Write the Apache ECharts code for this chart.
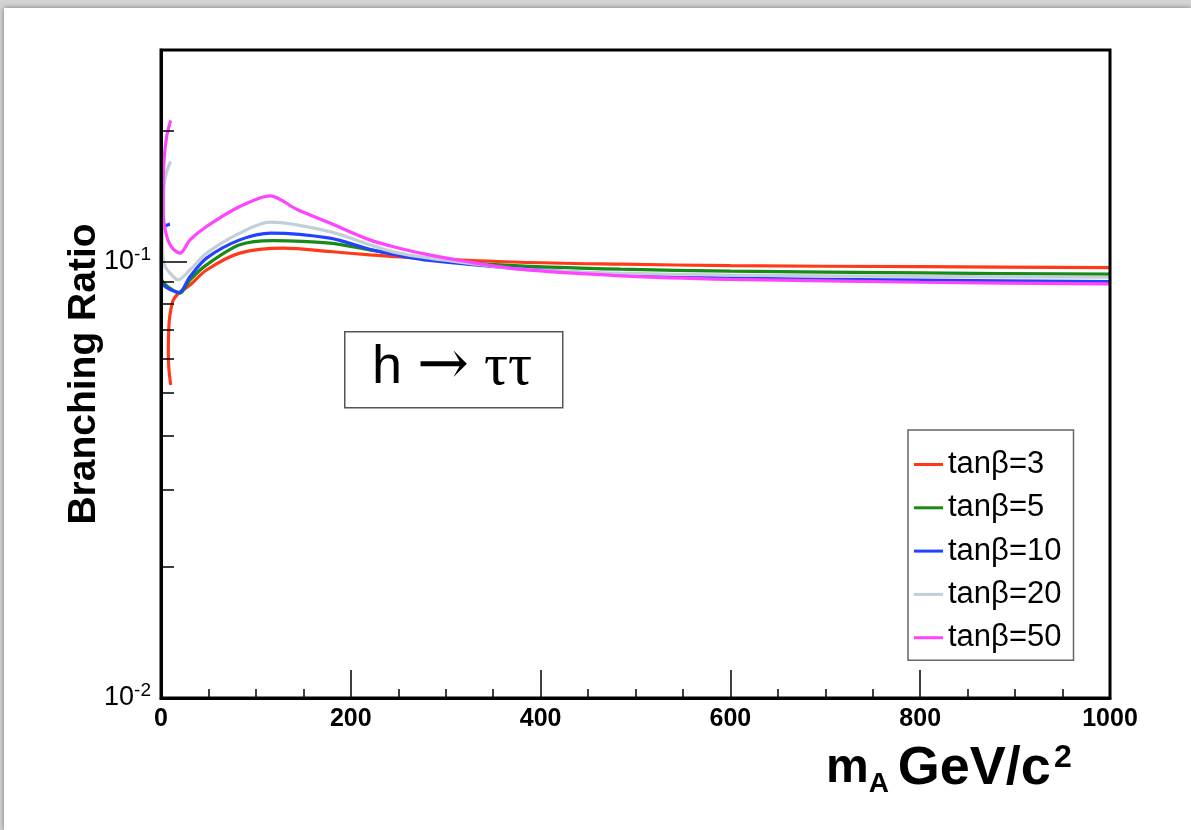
<!DOCTYPE html>
<html><head><meta charset="utf-8">
<script src="https://cdn.jsdelivr.net/npm/echarts@6/dist/echarts.min.js"></script>
<style>
html,body{margin:0;padding:0;width:1191px;height:830px;overflow:hidden;background:#d4d4d4;}
#card{position:absolute;left:4px;top:8px;right:0;bottom:0;background:#fff;box-shadow:0 0 5px rgba(0,0,0,0.45);}
#chart{position:absolute;left:0;top:0;width:1191px;height:830px;}
</style></head><body>
<div id="card"></div><div id="chart"></div>
<script>
// ---- data (mA [GeV/c^2], BR) ----
const seriesNames = ['tanβ=3', 'tanβ=5', 'tanβ=10', 'tanβ=20', 'tanβ=50'];
const seriesColors = ['#ff3a1a', '#178a17', '#2342ff', '#c3cfd8', '#ff44ff'];
const tb3 = [[10.2,0.0522],[8.3,0.057],[7.7,0.0617],[8,0.068],[8.8,0.0736],[10.5,0.078],[13,0.0818],[18.3,0.0847],[22,0.0858],[30.6,0.0885],[48,0.0958],[83,0.1047],[129,0.1075],[178,0.1056],[220,0.1037],[248,0.1028],[283,0.1018],[378,0.0998],[484,0.0988],[600,0.098],[800,0.0975],[1000,0.097]];
const tb5 = [[1,0.0905],[5,0.0885],[10,0.0868],[15,0.0855],[20,0.0848],[30.6,0.0909],[48,0.0984],[83,0.1094],[118,0.1119],[178,0.1104],[220,0.1065],[248,0.1041],[283,0.1012],[378,0.0979],[484,0.0962],[600,0.0952],[800,0.0943],[1000,0.0937]];
const tb10 = [[9.5,0.122],[5,0.121],[1.5,0.118],[0.5,0.105],[0.7,0.090],[5,0.0875],[11,0.0862],[19,0.085],[30.6,0.0925],[48,0.102],[83,0.1123],[116,0.1164],[178,0.1133],[220,0.1069],[248,0.1037],[283,0.1007],[378,0.0965],[484,0.0935],[600,0.0918],[800,0.0908],[1000,0.0901]];
const tb20 = [[10.2,0.170],[6,0.161],[3,0.148],[1.5,0.13],[1.5,0.112],[2.4,0.101],[5,0.097],[9.5,0.0942],[18,0.0909],[30.6,0.0959],[48,0.1047],[83,0.1164],[115,0.1233],[178,0.1173],[220,0.1094],[248,0.105],[283,0.102],[378,0.0962],[484,0.0942],[600,0.0932],[800,0.0926],[1000,0.0922]];
const tb50 = [[10.2,0.211],[6,0.194],[3.2,0.171],[2.4,0.149],[2.4,0.129],[5.3,0.116],[11.2,0.108],[20,0.1047],[30.6,0.1123],[48,0.1205],[83,0.1339],[115,0.1417],[143,0.132],[178,0.1227],[220,0.1123],[248,0.1079],[280,0.104],[320,0.1003],[378,0.0962],[484,0.0929],[600,0.0912],[800,0.0898],[1000,0.089]];
const seriesData = [tb3, tb5, tb10, tb20, tb50];
const xMajorTicks = [0, 200, 400, 600, 800, 1000];
const xMinorTicks = [50,100,150,250,300,350,450,500,550,650,700,750,850,900,950];
const yMajorTicks = [0.01, 0.1];
const yMinorTicks = [0.02,0.03,0.04,0.05,0.06,0.07,0.08,0.09,0.2];
const yLabelText = {0.01: '{b|10}{s|-2}', 0.1: '{b|10}{s|-1}'};

const FONT = '"Liberation Sans", Arial, Helvetica, sans-serif';
const chart = echarts.init(document.getElementById('chart'), null, {renderer: 'canvas'});

const grid = {left: 161, top: 50, right: 81, bottom: 132, show: true, borderColor: '#000', borderWidth: 3, z: 5};

const option = {
  animation: false,
  backgroundColor: 'transparent',
  grid: grid,
  xAxis: [
    {type: 'value', min: 0, max: 1000, interval: 200, position: 'bottom', z: 5,
     axisLine: {show: true, onZero: false, lineStyle: {color: '#000', width: 3}},
     axisTick: {show: true, inside: true, length: 28, customValues: xMajorTicks, lineStyle: {color: '#000', width: 1.5}},
     axisLabel: {show: true, margin: 9, color: '#000', fontFamily: FONT, fontWeight: 'bold', fontSize: 25, customValues: xMajorTicks,
       formatter: function (v) { return String(v); }},
     splitLine: {show: false}},
    {type: 'value', min: 0, max: 1000, position: 'bottom', z: 5,
     axisLine: {show: false},
     axisTick: {show: true, inside: true, length: 9, customValues: xMinorTicks, lineStyle: {color: '#000', width: 1.5}},
     axisLabel: {show: false},
     splitLine: {show: false}}
  ],
  yAxis: [
    {type: 'log', logBase: 10, min: 0.01, max: 0.306, position: 'left', z: 5,
     name: 'Branching Ratio', nameLocation: 'middle', nameRotate: 90, nameGap: 57, nameMoveOverlap: false,
     nameTextStyle: {color: '#000', fontFamily: FONT, fontWeight: 'bold', fontSize: 39},
     axisLine: {show: true, onZero: false, lineStyle: {color: '#000', width: 3}},
     axisTick: {show: true, inside: true, length: 26, customValues: yMajorTicks, lineStyle: {color: '#000', width: 1.5}},
     axisLabel: {show: true, margin: 10, customValues: yMajorTicks,
       formatter: function (v) { for (const k in yLabelText) { if (Math.abs(v - Number(k)) < 1e-9) return yLabelText[k]; } return ''; },
       rich: {b: {fontFamily: FONT, fontSize: 27, color: '#000'},
              s: {fontFamily: FONT, fontSize: 19, color: '#000', padding: [0, 0, 15, 0]}}},
     splitLine: {show: false}},
    {type: 'log', logBase: 10, min: 0.01, max: 0.306, position: 'left', z: 5,
     axisLine: {show: false},
     axisTick: {show: true, inside: true, length: 13, customValues: yMinorTicks, lineStyle: {color: '#000', width: 1.5}},
     axisLabel: {show: false},
     splitLine: {show: false}}
  ],
  legend: {
    orient: 'vertical', left: 908, top: 430,
    data: seriesNames,
    icon: 'rect', itemWidth: 29, itemHeight: 3, itemGap: 12.3,
    padding: [19, 12, 7, 6],
    borderColor: '#666', borderWidth: 1.5, backgroundColor: '#fff',
    textStyle: {color: '#000', fontFamily: FONT, fontSize: 31},
    z: 6
  },
  graphic: [
    {type: 'rect', left: 344, top: 331, shape: {width: 218, height: 76},
     style: {fill: '#fff', stroke: '#555', lineWidth: 1.5}, z: 6},
    {type: 'text', left: 372, top: 337, z: 7,
     style: {text: '{h|h }{a|→}{t| ττ}', rich: {
       h: {fontFamily: FONT, fontSize: 54, fill: '#000'},
       a: {fontFamily: '"DejaVu Serif", "Liberation Serif", serif', fontSize: 62, fill: '#000'},
       t: {fontFamily: '"Liberation Serif", "DejaVu Serif", serif', fontSize: 60, fill: '#000'}}}},
    {type: 'text', left: 826, top: 742, z: 7,
     style: {text: '{m|m}{sub|A}{sp| }{g|GeV/c}{sup|2}', rich: {
       m: {fontFamily: FONT, fontWeight: 'bold', fontSize: 48, fill: '#000'},
       sub: {fontFamily: FONT, fontWeight: 'bold', fontSize: 28, fill: '#000', padding: [30, 0, 0, 0]},
       sp: {fontFamily: FONT, fontSize: 32, fill: '#000'},
       g: {fontFamily: FONT, fontWeight: 'bold', fontSize: 54, fill: '#000'},
       sup: {fontFamily: FONT, fontWeight: 'bold', fontSize: 32, fill: '#000', padding: [0, 0, 22, 3]}}}}
  ],
  series: seriesNames.map(function (name, i) {
    return {
      name: name, type: 'line', xAxisIndex: 0, yAxisIndex: 0,
      data: seriesData[i], showSymbol: false, smooth: 0.3, clip: true,
      color: seriesColors[i],
      lineStyle: {color: seriesColors[i], width: 3.2},
      z: 2
    };
  })
};
chart.setOption(option);
</script>
</body></html>
